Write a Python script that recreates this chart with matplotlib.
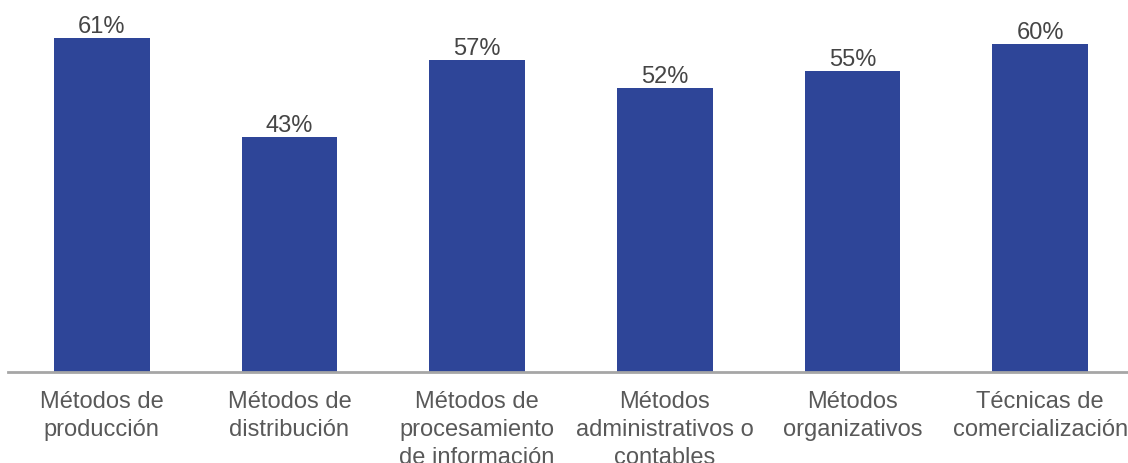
import matplotlib.pyplot as plt

plt.rcParams['font.family'] = ['Liberation Sans', 'DejaVu Sans']

categories = [
    "Métodos de\nproducción",
    "Métodos de\ndistribución",
    "Métodos de\nprocesamiento\nde información",
    "Métodos\nadministrativos o\ncontables",
    "Métodos\norganizativos",
    "Técnicas de\ncomercialización",
]
values = [61, 43, 57, 52, 55, 60]
value_labels = ["61%", "43%", "57%", "52%", "55%", "60%"]

W, H = 1128, 463
fig = plt.figure(figsize=(W / 100, H / 100), dpi=100)
# axes spans a little past the right edge, as in the original crop
ax = fig.add_axes([8 / W, (H - 372) / H, 1126 / W, 372 / H])

x = range(len(categories))
bars = ax.bar(x, values, width=0.51, color="#2E4598", zorder=2)
for rect, lab in zip(bars, value_labels):
    ax.annotate(lab, (rect.get_x() + rect.get_width() / 2, rect.get_height()),
                xytext=(0, 0), textcoords="offset points",
                ha="center", va="bottom", fontsize=17, color="#454545")

ax.set_xlim(-0.5, 5.5)
ax.set_ylim(0, 68)
ax.set_xticks(list(x))
ax.set_xticklabels(categories, fontsize=17, color="#595959", linespacing=1.33)
ax.tick_params(axis="x", length=0, pad=14)
ax.set_yticks([])
for side in ["top", "left", "right"]:
    ax.spines[side].set_visible(False)
ax.spines["bottom"].set_color("#A6A6A6")
ax.spines["bottom"].set_linewidth(2)

fig.savefig("out.png", dpi=100)
